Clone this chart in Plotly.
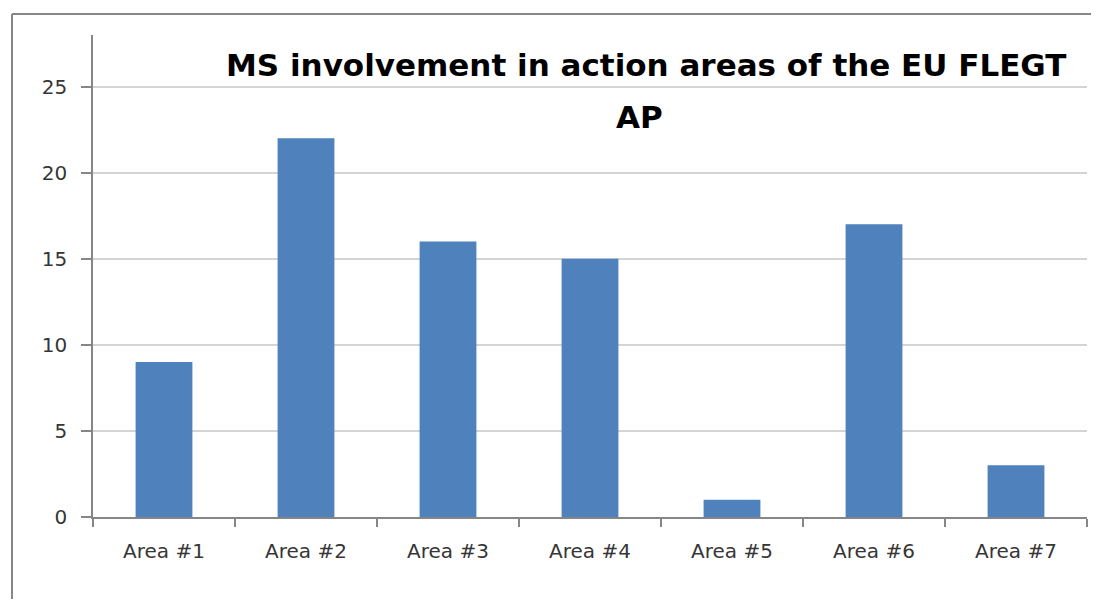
import plotly.graph_objects as go

# data
areas = ["Area #1", "Area #2", "Area #3", "Area #4", "Area #5", "Area #6", "Area #7"]
ms_counts = [9, 22, 16, 15, 1, 17, 3]
y_ticks = [0, 5, 10, 15, 20, 25]

title_lines = ["MS involvement in action areas of the EU FLEGT", "AP"]

BAR_COLOR = "#4F81BD"
AXIS_COLOR = "#868686"
GRID_COLOR = "#D4D4D4"
TEXT_COLOR = "#363636"

# the page body has an 8px margin, so the figure is sized to fit inside it
FIG_W, FIG_H = 1083, 591

fig = go.Figure()

fig.add_trace(go.Bar(
    x=areas,
    y=ms_counts,
    marker=dict(color=BAR_COLOR, line=dict(width=0)),
    width=0.4,
    hoverinfo="x+y",
))

# Excel-like chart border (only top and left edges visible in the crop)
plot_w = FIG_W - 85 - 4
plot_h = FIG_H - 27 - 82
bx = (4 - 85) / plot_w
by = 1 + (27 - 6) / plot_h
border = dict(type="line", xref="paper", yref="paper",
              line=dict(color=AXIS_COLOR, width=2), layer="above")
fig.add_shape(x0=bx, x1=bx, y0=-0.3, y1=by, **border)
fig.add_shape(x0=bx, x1=1.05, y0=by, y1=by, **border)

# title drawn as two annotations to get Excel's loose line spacing
title_font = dict(family="DejaVu Sans, sans-serif", size=31, color="#000000")
fig.add_annotation(
    text=f"<b>{title_lines[0]}</b>", xref="paper", yref="paper",
    x=(646 - 93) / 994, y=1 - (65 - 35) / plot_h,
    xanchor="center", yanchor="middle", showarrow=False, font=title_font,
)
fig.add_annotation(
    text=f"<b>{title_lines[1]}</b>", xref="paper", yref="paper",
    x=(639 - 93) / 994, y=1 - (117 - 35) / plot_h,
    xanchor="center", yanchor="middle", showarrow=False, font=title_font,
)

fig.update_layout(
    width=FIG_W,
    height=FIG_H,
    margin=dict(l=85, r=4, t=27, b=82),
    paper_bgcolor="white",
    plot_bgcolor="white",
    showlegend=False,
    font=dict(family="DejaVu Sans, sans-serif", color=TEXT_COLOR),
    xaxis=dict(
        type="category",
        showline=True,
        linecolor=AXIS_COLOR,
        linewidth=1.5,
        ticks="outside",
        tickson="boundaries",
        ticklen=8,
        tickcolor=AXIS_COLOR,
        tickwidth=1.5,
        tickfont=dict(size=20, color=TEXT_COLOR),
        ticklabelstandoff=15,
        showgrid=False,
    ),
    yaxis=dict(
        range=[0, 28],
        tickvals=y_ticks,
        showline=True,
        linecolor=AXIS_COLOR,
        linewidth=1.5,
        ticks="outside",
        ticklen=10,
        tickcolor=AXIS_COLOR,
        tickwidth=1.5,
        showgrid=True,
        gridcolor=GRID_COLOR,
        gridwidth=1.5,
        zeroline=False,
        tickfont=dict(size=20, color=TEXT_COLOR),
        ticklabelstandoff=10,
    ),
)

fig.write_html("out.html")
